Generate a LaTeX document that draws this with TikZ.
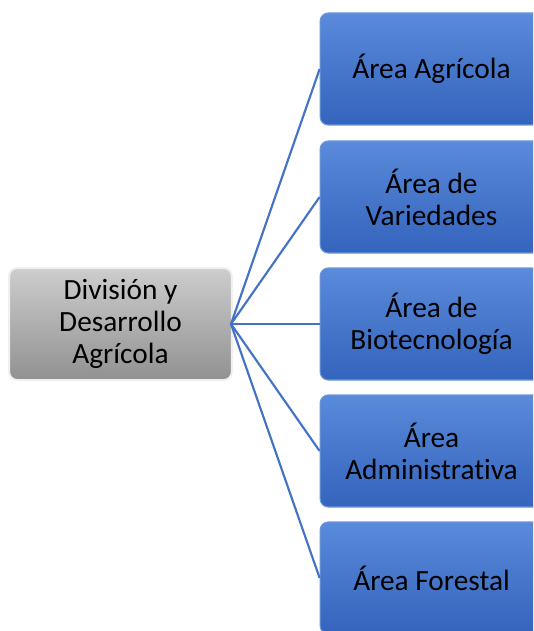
\documentclass[tikz,border=0pt]{standalone}
\usepackage{fontspec}
\setmainfont[Ligatures=NoCommon]{Carlito}
\definecolor{bluetop}{RGB}{90,138,218}
\definecolor{bluebot}{RGB}{52,100,188}
\definecolor{blueedge}{RGB}{110,150,220}
\definecolor{graytop}{RGB}{205,205,205}
\definecolor{graybot}{RGB}{145,145,145}
\definecolor{lineblue}{RGB}{68,114,196}
\begin{document}
\begin{tikzpicture}[x=0.75pt,y=-0.75pt,
  box/.style={rectangle, rounded corners=6pt, minimum width=167pt, minimum height=84pt,
    align=center, font=\fontsize{22}{24}\selectfont, text=black, inner sep=0pt},
  bluebox/.style={box, top color=bluetop, bottom color=bluebot, draw=blueedge, line width=0.8pt},
  graybox/.style={box, top color=graytop, bottom color=graybot, draw=white!88!gray, line width=1.5pt},
  conn/.style={draw=lineblue, line width=1.6pt}]
\clip (0,0) rectangle (533,631);
\fill[white] (0,0) rectangle (533,631);
\node[graybox] (root) at (120.5,324) {División y\\Desarrollo\\Agrícola};
\coordinate (hub) at (231,324);
\node[bluebox] (a1) at (431.5,69) {Área Agrícola};
\node[bluebox] (a2) at (431.5,197) {Área de\\Variedades};
\node[bluebox] (a3) at (431.5,324) {Área de\\Biotecnología};
\node[bluebox] (a4) at (431.5,451) {Área\\Administrativa};
\node[bluebox] (a5) at (431.5,578) {Área Forestal};
\foreach \n in {a1,a2,a3,a4,a5}{
  \draw[conn] (hub) -- (\n.west);
}
\end{tikzpicture}
\end{document}
